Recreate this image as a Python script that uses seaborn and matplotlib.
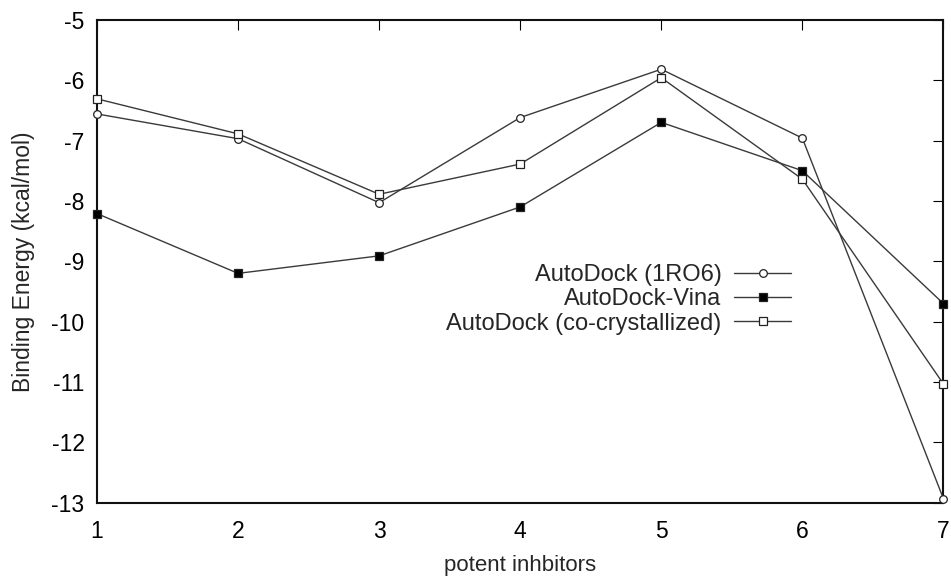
import matplotlib
matplotlib.use("Agg")
import matplotlib.pyplot as plt
import seaborn as sns
import pandas as pd

inhibitors = [1, 2, 3, 4, 5, 6, 7]
autodock_1ro6 = [-6.56, -6.97, -8.03, -6.62, -5.82, -6.96, -12.93]
autodock_vina = [-8.21, -9.20, -8.91, -8.10, -6.70, -7.50, -9.70]
autodock_cocryst = [-6.31, -6.89, -7.89, -7.39, -5.96, -7.64, -11.03]
series_names = ["AutoDock (1RO6)", "AutoDock-Vina", "AutoDock (co-crystallized)"]
yticks = [-5, -6, -7, -8, -9, -10, -11, -12, -13]

sns.set_style("white")
plt.rcParams["font.family"] = ["Liberation Sans", "DejaVu Sans"]
plt.rcParams["axes.unicode_minus"] = False

fig = plt.figure(figsize=(9.51, 5.8), dpi=100)
ax = fig.add_axes([0.102, 0.133, 0.890, 0.833])

line_col = "#3a3a3a"
styles = [
    (autodock_1ro6, "o", "white", 5.5),
    (autodock_vina, "s", "black", 6.2),
    (autodock_cocryst, "s", "white", 6.2),
]
for name, (vals, mk, fc, ms) in zip(series_names, styles):
    df = pd.DataFrame({"x": inhibitors, "y": vals})
    sns.lineplot(data=df, x="x", y="y", ax=ax, color=line_col, lw=1.0,
                 marker=mk, markersize=ms, markerfacecolor=fc,
                 markeredgecolor="#222222", markeredgewidth=0.9,
                 label=name, clip_on=False, zorder=3)

ax.set_xlim(1, 7)
ax.set_ylim(-13, -5)
ax.set_xticks(inhibitors)
ax.set_yticks(yticks)
ax.tick_params(axis="both", which="both", direction="in", length=7, width=0.8,
               top=True, right=True, labelsize=16.5, colors="black")
ax.tick_params(axis="x", pad=12)
ax.tick_params(axis="y", pad=9)
for s in ax.spines.values():
    s.set_visible(True)
    s.set_color("#111111")
    s.set_linewidth(1.5)

ax.set_xlabel("potent inhbitors", fontsize=16, labelpad=9)
ax.set_ylabel("Binding Energy (kcal/mol)", fontsize=16.5, labelpad=12)

leg = ax.legend(loc="center right", bbox_to_anchor=(5.92, -9.63),
                bbox_transform=ax.transData, frameon=False,
                markerfirst=False, fontsize=17, handlelength=2.4,
                handletextpad=0.55, labelspacing=0.1, borderpad=0,
                borderaxespad=0)

fig.savefig("out.png", dpi=100)
